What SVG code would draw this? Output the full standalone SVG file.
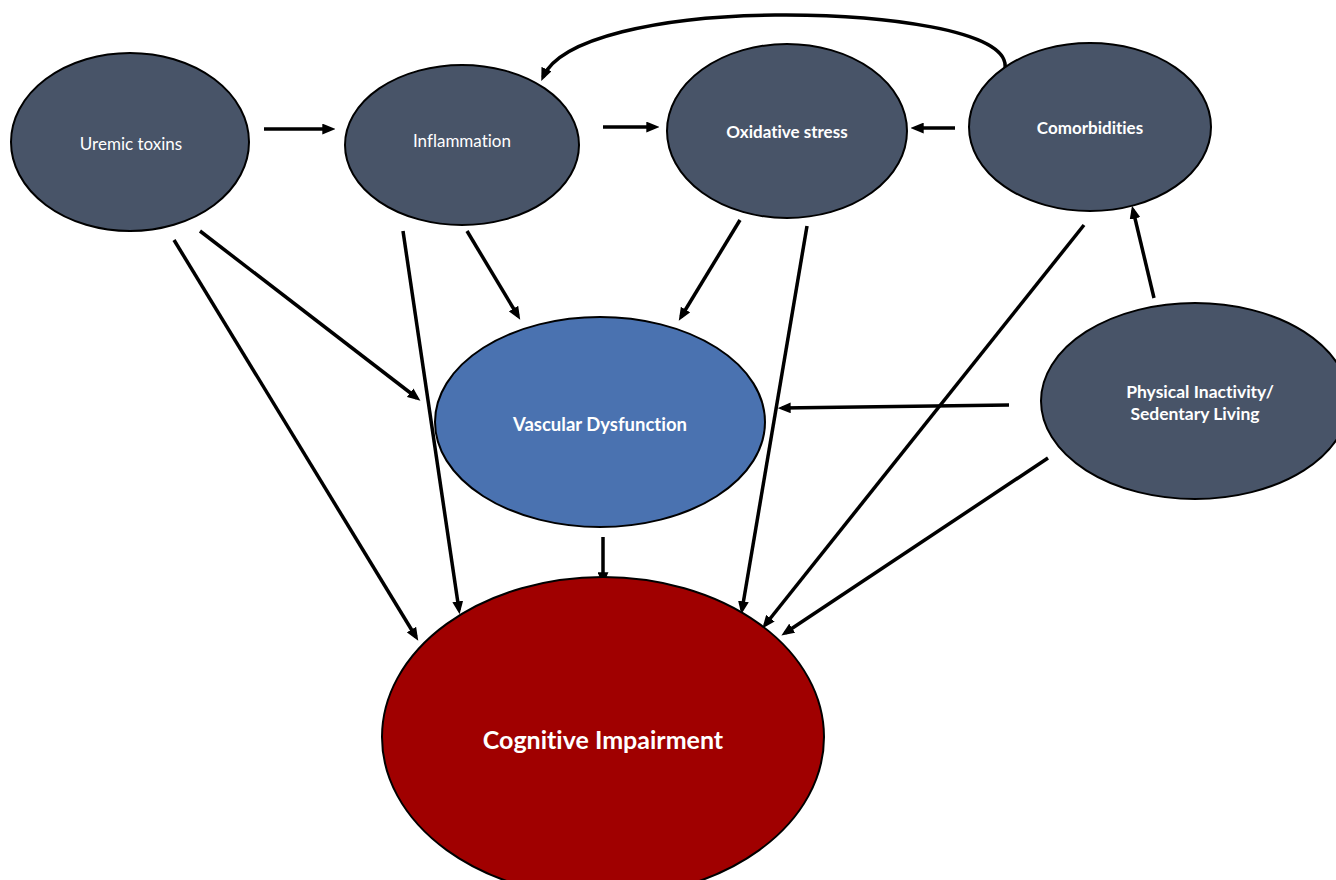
<svg xmlns="http://www.w3.org/2000/svg" width="1336" height="880" viewBox="0 0 1336 880">
<defs>
<marker id="ah" viewBox="0 0 12 10" markerWidth="13" markerHeight="11" refX="8" refY="5" orient="auto" markerUnits="userSpaceOnUse">
<path d="M0,0 L12,5 L0,10 Z" fill="#000"/>
</marker>
</defs>
<style>
.n{fill:#485468;stroke:#000;stroke-width:2}
.v{fill:#4A72B0;stroke:#000;stroke-width:2}
.c{fill:#A00000;stroke:#000;stroke-width:2}
.t{font-family:Lato,"Open Sans","Liberation Sans",sans-serif;fill:#fff;text-anchor:middle;dominant-baseline:central;font-variant-ligatures:none}
.e{stroke:#000;stroke-width:3.5;fill:none;marker-end:url(#ah)}
</style>
<rect width="1336" height="880" fill="#fff"/>
<g id="connectors">
<line class="e" x1="264" y1="129" x2="331" y2="129"/>
<line class="e" x1="603" y1="127" x2="655" y2="127"/>
<line class="e" x1="955" y1="128" x2="915" y2="128"/>
<path class="e" d="M1005,68 C1010,30 880,14 775,15 C660,16 560,38 543,77"/>
<line class="e" x1="174" y1="240" x2="416" y2="637"/>
<line class="e" x1="200" y1="231" x2="417" y2="398"/>
<line class="e" x1="403" y1="231" x2="459" y2="610"/>
<line class="e" x1="467" y1="231" x2="518" y2="316"/>
<line class="e" x1="740" y1="220" x2="681" y2="317"/>
<line class="e" x1="807" y1="226" x2="742" y2="610"/>
<line class="e" x1="1084" y1="225" x2="765" y2="625"/>
<line class="e" x1="1154" y1="298" x2="1133" y2="210"/>
<line class="e" x1="1009" y1="405" x2="782" y2="408"/>
<line class="e" x1="1048" y1="458" x2="785" y2="633"/>
<line class="e" x1="603" y1="537" x2="603" y2="581"/>
</g>
<g id="uremic"><ellipse class="n" cx="130" cy="142" rx="119" ry="89"/><text class="t" x="131" y="143" font-size="17">Uremic toxins</text></g>
<g id="inflammation"><ellipse class="n" cx="462" cy="145" rx="117" ry="80"/><text class="t" x="462" y="140" font-size="17">Inflammation</text></g>
<g id="oxidative"><ellipse class="n" cx="787" cy="131" rx="120" ry="87"/><text class="t" x="787" y="131" font-size="17" font-weight="bold">Oxidative stress</text></g>
<g id="comorbidities"><ellipse class="n" cx="1090" cy="127" rx="121" ry="84"/><text class="t" x="1090" y="127" font-size="17" font-weight="bold">Comorbidities</text></g>
<g id="vascular"><ellipse class="v" cx="600" cy="422" rx="165" ry="105"/><text class="t" x="600" y="424" font-size="18.5" font-weight="bold">Vascular Dysfunction</text></g>
<g id="physical"><ellipse class="n" cx="1195" cy="401" rx="154" ry="98"/><text class="t" x="1200" y="391" font-size="17.5" font-weight="bold">Physical Inactivity/</text><text class="t" x="1195" y="413" font-size="17.5" font-weight="bold">Sedentary Living</text></g>
<g id="cognitive"><ellipse class="c" cx="603" cy="737" rx="221" ry="160"/><text class="t" x="603" y="739" font-size="25" font-weight="bold">Cognitive Impairment</text></g>
</svg>
